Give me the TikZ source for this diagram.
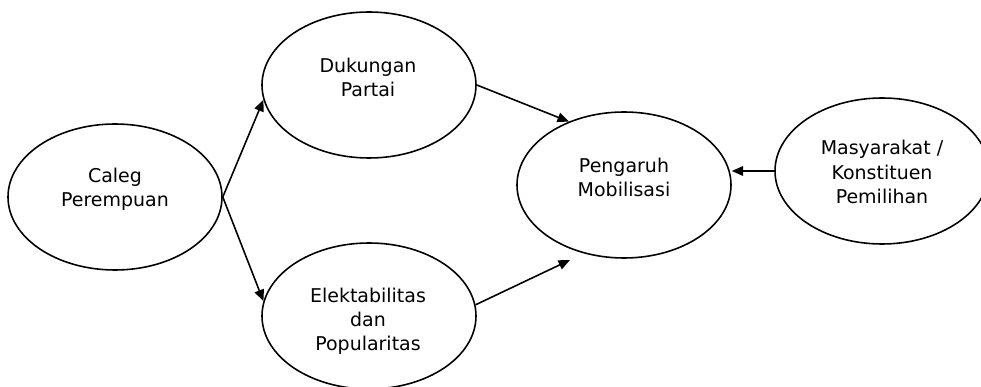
\documentclass[tikz,border=0pt]{standalone}
\usepackage{fontspec}
\setmainfont{DejaVu Sans}
\usepackage{tikz}
\usetikzlibrary{shapes.geometric,arrows.meta}

\begin{document}
\begin{tikzpicture}[
  oval/.style={draw, ellipse, line width=0.9pt, minimum width=4.28cm, minimum height=2.92cm, inner sep=0pt},
  txt/.style={align=center, inner sep=0pt, font=\fontsize{10.8pt}{13.7pt}\selectfont},
  arr/.style={-{Triangle[length=6.5pt,width=5.5pt]}, line width=0.9pt}
]
\useasboundingbox (0,0) rectangle (19.62,-7.74);

% ellipses
\node[oval] (caleg) at (2.30,-3.94) {};
\node[oval] (duk) at (7.38,-1.70) {};
\node[oval] (elek) at (7.38,-6.32) {};
\node[oval] (peng) at (12.48,-3.70) {};
\node[oval] (mas) at (17.64,-3.42) {};

% texts
\node[txt] (caleg-t) at (2.30,-3.78) {Caleg\\Perempuan};
\node[txt] (duk-t) at (7.36,-1.55) {Dukungan\\Partai};
\node[txt] (elek-t) at (7.36,-6.42) {Elektabilitas\\dan\\Popularitas};
\node[txt] (peng-t) at (12.48,-3.55) {Pengaruh\\Mobilisasi};
\node[txt] (mas-t) at (17.64,-3.44) {Masyarakat /\\Konstituen\\Pemilihan};

\coordinate (low-end) at (11.40,-5.20);

% arrows
\draw[arr] (caleg.east) -- (duk.188);
\draw[arr] (caleg.east) -- (elek.172);
\draw[arr] (duk.east) -- (peng.131);
\draw[arr] (elek.6) -- (low-end);
\draw[arr] (mas.west) -- (mas.west -| peng.east);
\end{tikzpicture}
\end{document}
